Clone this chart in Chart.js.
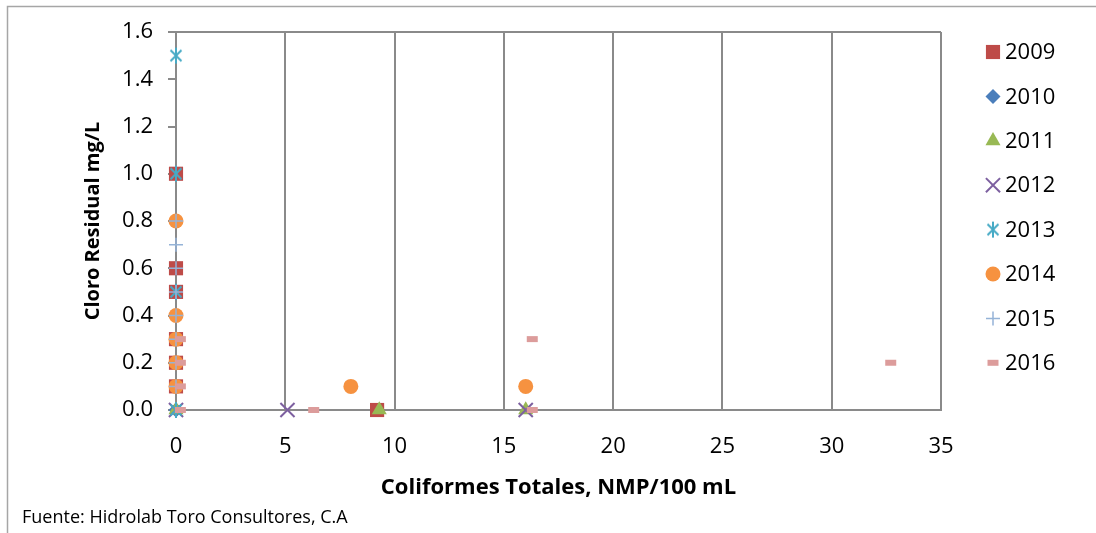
<!DOCTYPE html>
<html>
<head>
<meta charset="utf-8">
<script src="https://cdn.jsdelivr.net/npm/chart.js@4/dist/chart.umd.min.js"></script>
<style>
  html, body { margin: 0; padding: 0; background: #fff; }
  #wrap { width: 1096px; height: 533px; }
</style>
</head>
<body>
<div id="wrap"><canvas id="chart" width="1096" height="533"></canvas></div>
<script>
// Cloro residual vs coliformes totales, por año
const years = ['2009', '2010', '2011', '2012', '2013', '2014', '2015', '2016'];

const x2009 = [0, 0, 0, 0, 0, 0, 9.2];
const y2009 = [1.0, 0.6, 0.5, 0.3, 0.2, 0.1, 0.0];
const x2010 = [0];
const y2010 = [0.0];
const x2011 = [0, 9.3, 16];
const y2011 = [0.0, 0.0, 0.0];
const x2012 = [0, 5.1, 16];
const y2012 = [0.0, 0.0, 0.0];
const x2013 = [0, 0, 0, 0];
const y2013 = [1.5, 1.0, 0.5, 0.0];
const x2014 = [0, 0, 0, 0, 0, 8.0, 16.0];
const y2014 = [0.8, 0.4, 0.3, 0.2, 0.1, 0.1, 0.1];
const x2015 = [0, 0, 0, 0, 0, 0, 0, 0];
const y2015 = [0.8, 0.7, 0.6, 0.5, 0.4, 0.3, 0.2, 0.1];
const x2016 = [0.2, 0.2, 0.2, 0.2, 6.3, 16.3, 16.3, 32.7];
const y2016 = [0.3, 0.2, 0.1, 0.0, 0.0, 0.3, 0.0, 0.2];

const xTicks = [0, 5, 10, 15, 20, 25, 30, 35];
const yTicks = [0.0, 0.2, 0.4, 0.6, 0.8, 1.0, 1.2, 1.4, 1.6];

const xs = [x2009, x2010, x2011, x2012, x2013, x2014, x2015, x2016];
const ys = [y2009, y2010, y2011, y2012, y2013, y2014, y2015, y2016];

const FONT = "'Open Sans', 'DejaVu Sans', sans-serif";
const GRID = '#8a8a8a';

// asterisco (X + barra vertical) para 2013
function asterisk(color) {
    const c = document.createElement('canvas');
    c.width = 18; c.height = 18;
    const g = c.getContext('2d');
    g.strokeStyle = color;
    g.lineWidth = 2;
    g.beginPath();
    g.moveTo(3.5, 3.5); g.lineTo(14.5, 14.5);
    g.moveTo(14.5, 3.5); g.lineTo(3.5, 14.5);
    g.moveTo(9, 1); g.lineTo(9, 17);
    g.stroke();
    return c;
}

const markers = [
    { style: 'rect', radius: 10, fill: '#be4b48', stroke: '#be4b48', width: 0 },
    { style: 'rectRot', radius: 7.5, fill: '#4a7ebb', stroke: '#4a7ebb', width: 0 },
    { style: 'triangle', radius: 8.7, fill: '#98b954', stroke: '#98b954', width: 0 },
    { style: 'crossRot', radius: 10, fill: '#7d60a0', stroke: '#7d60a0', width: 2 },
    { style: asterisk('#46aac5'), radius: 9, fill: '#46aac5', stroke: '#46aac5', width: 0 },
    { style: 'circle', radius: 7.5, fill: '#f69240', stroke: '#f69240', width: 0 },
    { style: 'cross', radius: 7, fill: '#95b3d7', stroke: '#95b3d7', width: 1.5 },
    { style: 'line', radius: 5.5, fill: '#dc9c9b', stroke: '#dc9c9b', width: 6 }
];

const datasets = years.map((yr, i) => ({
    label: yr,
    data: xs[i].map((x, k) => ({ x: x, y: ys[i][k] })),
    pointStyle: markers[i].style,
    pointRadius: markers[i].radius,
    pointBackgroundColor: markers[i].fill,
    pointBorderColor: markers[i].stroke,
    pointBorderWidth: markers[i].width,
    showLine: false,
    clip: false,
    order: years.length - i
}));

// marco exterior, fuente y leyenda a la derecha
const extras = {
    id: 'extras',
    beforeDraw(chart) {
        const ctx = chart.ctx;
        ctx.save();
        ctx.strokeStyle = '#a6a6a6';
        ctx.lineWidth = 1.5;
        ctx.beginPath();
        ctx.moveTo(7.5, 533);
        ctx.lineTo(7.5, 6.5);
        ctx.lineTo(1096, 6.5);
        ctx.stroke();
        ctx.restore();
    },
    afterDraw(chart) {
        const ctx = chart.ctx;
        ctx.save();
        ctx.fillStyle = '#000';
        ctx.textBaseline = 'middle';
        ctx.textAlign = 'left';
        ctx.font = '18px ' + FONT;
        ctx.fillText('Fuente: Hidrolab Toro Consultores, C.A', 22, 518);

        ctx.font = '22px ' + FONT;
        chart.data.datasets.forEach((ds, i) => {
            const y = 52 + i * 44.4;
            const o = chart.getDatasetMeta(i).data[0].options;
            ctx.fillStyle = o.backgroundColor;
            ctx.strokeStyle = o.borderColor;
            ctx.lineWidth = o.borderWidth;
            Chart.helpers.drawPoint(ctx, {
                pointStyle: o.pointStyle,
                radius: o.radius,
                rotation: 0,
                borderWidth: o.borderWidth
            }, 993, y);
            ctx.fillStyle = '#000';
            ctx.fillText(ds.label, 1005, y + 1);
        });
        ctx.restore();
    }
};

new Chart(document.getElementById('chart'), {
    type: 'scatter',
    data: { datasets: datasets },
    options: {
        responsive: false,
        animation: false,
        devicePixelRatio: 1,
        layout: { padding: { top: 32, right: 155, bottom: 0, left: 0 } },
        plugins: {
            legend: { display: false },
            tooltip: { enabled: false }
        },
        scales: {
            x: {
                type: 'linear',
                min: 0,
                max: 35,
                afterFit: s => { s.height = 123; },
                afterBuildTicks: s => { s.ticks = xTicks.map(v => ({ value: v })); },
                ticks: {
                    color: '#000',
                    font: { family: FONT, size: 22 },
                    padding: 24,
                    maxRotation: 0
                },
                grid: { color: GRID, lineWidth: 2, drawTicks: false },
                border: { color: GRID, width: 2 },
                title: {
                    display: true,
                    text: 'Coliformes Totales, NMP/100 mL',
                    color: '#000',
                    font: { family: FONT, size: 22, weight: 'bold' },
                    padding: { top: 0, bottom: 32 }
                }
            },
            y: {
                type: 'linear',
                min: 0,
                max: 1.6,
                afterFit: s => { s.width = 176; },
                afterBuildTicks: s => { s.ticks = yTicks.map(v => ({ value: v })); },
                ticks: {
                    color: '#000',
                    font: { family: FONT, size: 22 },
                    padding: 15,
                    callback: v => Number(v).toFixed(1)
                },
                grid: {
                    color: c => (c.tick && c.tick.value === 1.6) ? GRID : 'rgba(0,0,0,0)',
                    tickColor: GRID,
                    tickLength: 8,
                    lineWidth: 2
                },
                border: { color: GRID, width: 2 },
                title: {
                    display: true,
                    text: 'Cloro Residual mg/L',
                    color: '#000',
                    font: { family: FONT, size: 20, weight: 'bold' },
                    padding: { top: 81, bottom: 0 }
                }
            }
        }
    },
    plugins: [extras]
});
</script>
</body>
</html>
